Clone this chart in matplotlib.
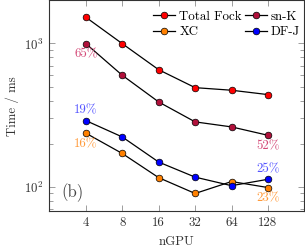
import matplotlib
matplotlib.use("Agg")

import matplotlib.pyplot as plt
from matplotlib.ticker import FixedLocator, FixedFormatter, LogLocator, NullFormatter

plt.rcParams["font.family"] = "cmr10"
plt.rcParams["mathtext.fontset"] = "cm"
plt.rcParams["axes.formatter.use_mathtext"] = True

# Datos
ngpu = [4, 8, 16, 32, 64, 128]
total_fock = [1523, 997, 656, 492, 472, 440]
sn_k = [997, 600, 391, 284, 262, 229]
xc = [237, 171, 116, 90, 109, 99]
df_j = [290, 223, 149, 117, 102, 113]

# Porcentajes anotados (inicio / fin)
pct_snk = ["65%", "52%"]
pct_dfj = ["19%", "25%"]
pct_xc = ["16%", "23%"]

c_fock = "#ff0000"
c_snk = "#b0103a"
c_xc = "#ff8000"
c_dfj = "#0000ff"

fs = 9.3

fig = plt.figure(figsize=(3.05, 2.47), dpi=100)
ax = fig.add_axes([0.162, 0.146, 0.836, 0.852])

estilo = dict(color="black", lw=0.9, marker="o", markersize=4.8,
              markeredgecolor="black", markeredgewidth=0.5)
h1, = ax.plot(ngpu, total_fock, markerfacecolor=c_fock, label="Total Fock", **estilo)
h2, = ax.plot(ngpu, sn_k, markerfacecolor=c_snk, label="sn-K", **estilo)
h3, = ax.plot(ngpu, xc, markerfacecolor=c_xc, label="XC", **estilo)
h4, = ax.plot(ngpu, df_j, markerfacecolor=c_dfj, label="DF-J", **estilo)

ax.set_xscale("log", base=2)
ax.set_yscale("log")
ax.set_xlim(2, 256)
ax.set_ylim(68, 1993)

ax.xaxis.set_major_locator(FixedLocator(ngpu))
ax.xaxis.set_major_formatter(FixedFormatter([str(n) for n in ngpu]))
ax.xaxis.set_minor_locator(FixedLocator([]))
ax.yaxis.set_major_locator(FixedLocator([100, 1000]))
ax.yaxis.set_major_formatter(FixedFormatter([r"$10^2$", r"$10^3$"]))
ax.yaxis.set_minor_locator(LogLocator(base=10, subs=range(2, 10)))
ax.yaxis.set_minor_formatter(NullFormatter())

ax.tick_params(which="both", direction="in", top=True, right=True,
               color="#777777", width=0.5, labelsize=fs, pad=4,
               labelcolor="#333333")
ax.tick_params(which="major", length=4)
ax.tick_params(which="minor", length=2.8)
for s in ax.spines.values():
    s.set_color("#333333")
    s.set_linewidth(0.8)

ax.set_xlabel("nGPU", fontsize=fs, color="#333333", labelpad=5)
ax.set_ylabel("Time / ms", fontsize=fs, color="#333333", labelpad=4)

# Anotaciones
def anotar(x, y, txt, color, dy):
    ax.annotate(txt, xy=(x, y), xytext=(0, dy), textcoords="offset points",
                ha="center", va="center", color=color, fontsize=fs)

anotar(ngpu[0], sn_k[0], pct_snk[0], "#d44a78", -8)
anotar(ngpu[-1], sn_k[-1], pct_snk[1], "#d44a78", -8)
anotar(ngpu[0], df_j[0], pct_dfj[0], "#5555ff", 7.5)
anotar(ngpu[-1], df_j[-1], pct_dfj[1], "#5555ff", 7.5)
anotar(ngpu[0], xc[0], pct_xc[0], "#ff9a3a", -8)
anotar(ngpu[-1], xc[-1], pct_xc[1], "#ff9a3a", -8)

ax.text(0.09, 0.085, "(b)", transform=ax.transAxes, fontsize=12,
        color="#444444", ha="center", va="center")

ax.legend(handles=[h1, h3, h2, h4], ncol=2, frameon=False, fontsize=fs,
          loc="upper right", bbox_to_anchor=(1.024, 1.0), handlelength=1.7,
          handletextpad=0.35, columnspacing=0.2, labelspacing=0.25,
          borderpad=0.3)

fig.savefig("out.png", dpi=100)
